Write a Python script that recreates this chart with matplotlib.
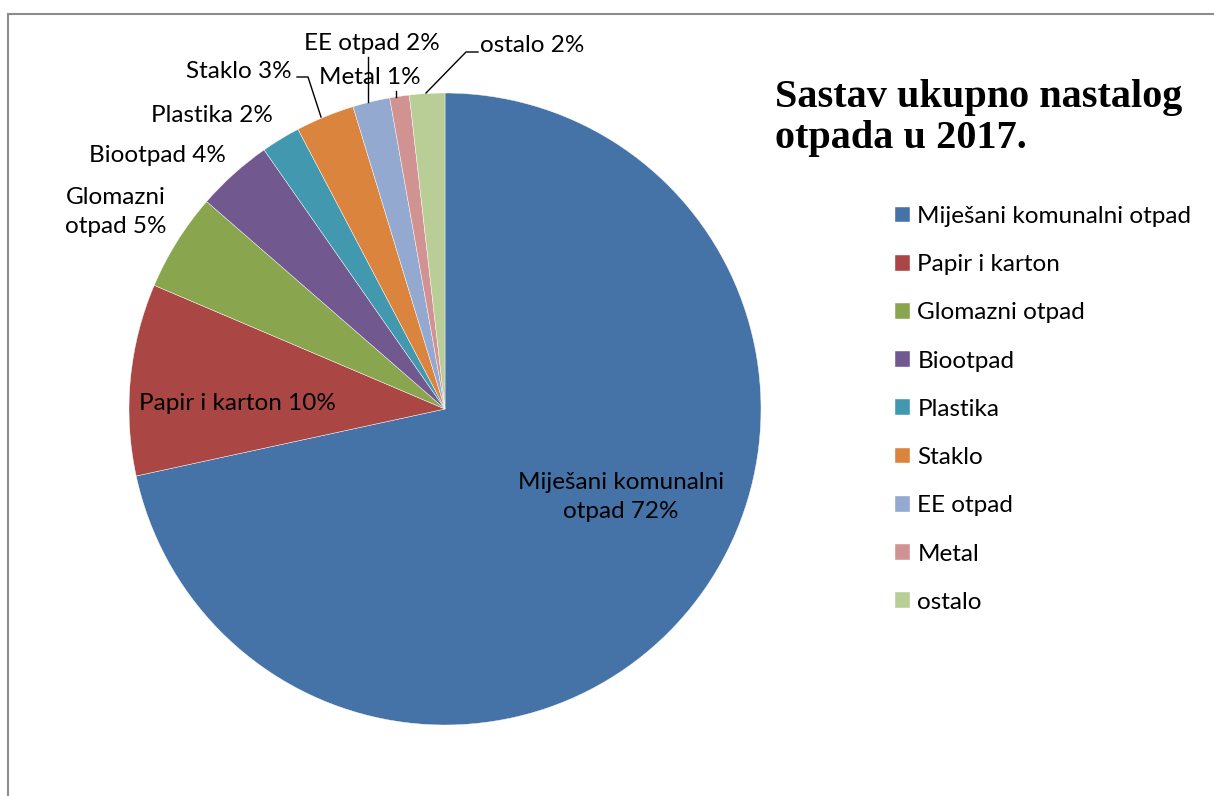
import matplotlib.pyplot as plt
from matplotlib.lines import Line2D

categories = ['Miješani komunalni otpad', 'Papir i karton', 'Glomazni otpad', 'Biootpad',
              'Plastika', 'Staklo', 'EE otpad', 'Metal', 'ostalo']
shares = [71.6, 9.8, 5.0, 3.9, 2.0, 3.0, 1.9, 1.0, 1.8]
colors = ['#4572A7', '#AA4643', '#89A54E', '#71588F', '#4198AF',
          '#DB843D', '#93A9CF', '#D19392', '#B9CD96']
slice_labels = ['Miješani komunalni\notpad', 'Papir i karton', 'Glomazni\notpad', 'Biootpad',
                'Plastika', 'Staklo', 'EE otpad', 'Metal', 'ostalo']
title = 'Sastav ukupno nastalog\notpada u 2017.'

FONT = 'Lato'
FS = 17.5

W, H = 1214, 796
fig = plt.figure(figsize=(W / 100, H / 100), dpi=100)
ax = fig.add_axes([0, 0, 1, 1])

# y axis inverted so everything below is in pixel coords -> start at top, go clockwise visually
wedges, _ = ax.pie(shares, colors=colors, startangle=270, counterclock=True,
                   center=(445, 409), radius=316,
                   wedgeprops=dict(edgecolor='white', linewidth=0.3))
ax.set_xlim(0, W)
ax.set_ylim(H, 0)
ax.set_aspect('auto')
ax.axis('off')

# label positions (pixel centres)
label_pos = [(621, 497), (237, 403), (116, 212), (157, 156), (212, 116),
             (239, 72), (372, 43), (370, 77), (532, 46)]
for name, val, (x, y) in zip(slice_labels, shares, label_pos):
    ax.text(x, y, f'{name} {round(val):.0f}%', ha='center', va='center',
            fontsize=FS, family=FONT, linespacing=1.5)

# leader lines
leaders = [
    ([297, 308, 321], [77, 77, 117]),   # Staklo
    ([368, 368], [57, 102]),            # EE otpad
    ([396, 396], [91, 97]),             # Metal
    ([478, 466, 426], [52, 52, 93]),    # ostalo
]
for xs, ys in leaders:
    ax.add_line(Line2D(xs, ys, color='black', lw=1))

# title (baseline of the last line)
ax.text(775, 148, title, ha='left', va='baseline', fontsize=29, family='Liberation Serif',
        fontweight='bold', linespacing=1.13)

# legend
ax.legend(wedges, categories, loc='upper left', bbox_to_anchor=(895 / W, 1 - 206 / H),
          frameon=False, prop={'family': FONT, 'size': FS},
          handlelength=0.62, handleheight=0.62, handletextpad=0.3, labelspacing=1.12,
          borderaxespad=0, borderpad=0)

# outer frame
ax.add_line(Line2D([8, W], [14, 14], color='#8c8c8c', lw=1.5))
ax.add_line(Line2D([8, 8], [14, H], color='#8c8c8c', lw=1.5))

fig.savefig('out.png', dpi=100)
